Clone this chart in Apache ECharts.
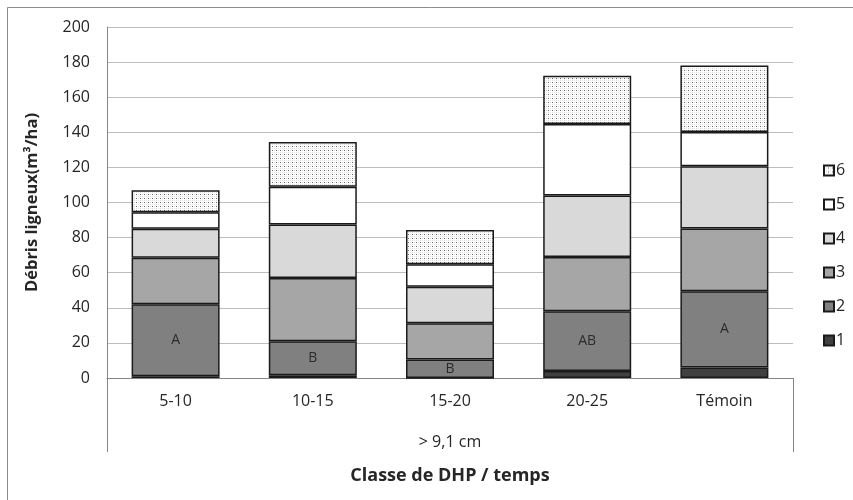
<!DOCTYPE html>
<html><head><meta charset="utf-8">
<script src="https://cdn.jsdelivr.net/npm/echarts@6/dist/echarts.min.js"></script>
<style>html,body{margin:0;padding:0;background:#fff}#c{width:853px;height:500px}</style>
</head><body><div id="c"></div>
<script>
const categories = ['5-10', '10-15', '15-20', '20-25', 'Témoin'];
const seriesNames = ['1', '2', '3', '4', '5', '6'];
const s1 = [1, 1.5, 0, 4, 6];
const s2 = [41, 19.5, 10.6, 34, 43.5];
const s3 = [26.5, 36, 20.6, 31, 35.7];
const s4 = [16.5, 30.5, 20.8, 35, 35.5];
const s5 = [9.5, 21.5, 12.8, 40.7, 19.4];
const s6 = [12.5, 25.5, 19.5, 27.5, 38];
const letters = ['A', 'B', 'B', 'AB', 'A'];
const yTicks = [0, 20, 40, 60, 80, 100, 120, 140, 160, 180, 200];
const groupLabel = '> 9,1 cm';
const xTitle = 'Classe de DHP / temps';
const yTitle = 'Débris ligneux(m³/ha)';

const FONT = 'Open Sans';
// dotted pattern for series 6
const tile = document.createElement('canvas');
tile.width = 4; tile.height = 4;
const tc = tile.getContext('2d');
tc.fillStyle = '#ffffff'; tc.fillRect(0, 0, 4, 4);
tc.fillStyle = '#d8d8d8'; tc.fillRect(0, 0, 1, 1); tc.fillRect(2, 2, 1, 1);
tc.fillStyle = '#666666'; tc.fillRect(0, 2, 1, 1);
tc.fillStyle = '#e6e6e6'; tc.fillRect(2, 0, 1, 1);

const fills = ['#404040', '#808080', '#a6a6a6', '#d9d9d9', '#ffffff', {image: tile, repeat: 'repeat'}];
const values = [s1, s2, s3, s4, s5, s6];

const series = values.map((v, i) => ({
  name: seriesNames[i],
  type: 'bar',
  stack: 'all',
  barWidth: 88,
  data: v,
  itemStyle: {color: fills[i], borderColor: '#1a1a1a', borderWidth: 1.5},
  emphasis: {disabled: true},
  label: i === 1 ? {
    show: true, position: 'inside', color: '#2b2b2b', fontFamily: FONT, fontSize: 14,
    formatter: p => letters[p.dataIndex]
  } : {show: false}
}));

const chart = echarts.init(document.getElementById('c'), null, {renderer: 'canvas'});
chart.setOption({
  animation: false,
  backgroundColor: '#fff',
  grid: {left: 107, right: 60, top: 27, bottom: 122, containLabel: false},
  legend: {
    orient: 'vertical', left: 818, top: 155,
    data: seriesNames.slice().reverse(),
    icon: 'rect', itemWidth: 10, itemHeight: 10, itemGap: 13,
    textStyle: {fontFamily: FONT, fontSize: 16, lineHeight: 21, color: '#262626', padding: [0, 0, 0, -3]},
    selectedMode: false
  },
  xAxis: {
    type: 'category', data: categories,
    axisLine: {show: true, lineStyle: {color: '#868686', width: 1}},
    axisTick: {show: false},
    axisLabel: {fontFamily: FONT, fontSize: 16, color: '#262626', margin: 15},
    name: xTitle, nameLocation: 'middle', nameGap: 89,
    nameTextStyle: {fontFamily: FONT, fontSize: 18, fontWeight: 'bold', color: '#262626'}
  },
  yAxis: {
    type: 'value', min: 0, max: 200, interval: 20,
    axisLine: {show: true, lineStyle: {color: '#868686', width: 1}},
    axisTick: {show: false},
    splitLine: {lineStyle: {color: '#bdbdbd', width: 1}},
    axisLabel: {fontFamily: FONT, fontSize: 16, color: '#262626', margin: 17,
      formatter: v => yTicks.includes(v) ? String(v) : ''},
    name: yTitle, nameLocation: 'middle', nameGap: 66, nameRotate: 90,
    nameTextStyle: {fontFamily: FONT, fontSize: 16.5, fontWeight: 'bold', color: '#262626'}
  },
  graphic: [
    {type: 'rect', shape: {x: 7.5, y: 7.5, width: 1000, height: 1000}, style: {fill: 'none', stroke: '#8c8c8c', lineWidth: 1}, silent: true, z: -1},
    {type: 'line', shape: {x1: 107.5, y1: 378, x2: 107.5, y2: 452}, style: {stroke: '#868686', lineWidth: 1}, silent: true},
    {type: 'line', shape: {x1: 793.5, y1: 378, x2: 793.5, y2: 452}, style: {stroke: '#868686', lineWidth: 1}, silent: true},
    {type: 'text', x: 450, y: 442, style: {text: groupLabel, fontFamily: FONT, fontSize: 16, fill: '#262626', align: 'center', verticalAlign: 'middle'}, silent: true}
  ],
  series: series
});
</script></body></html>
